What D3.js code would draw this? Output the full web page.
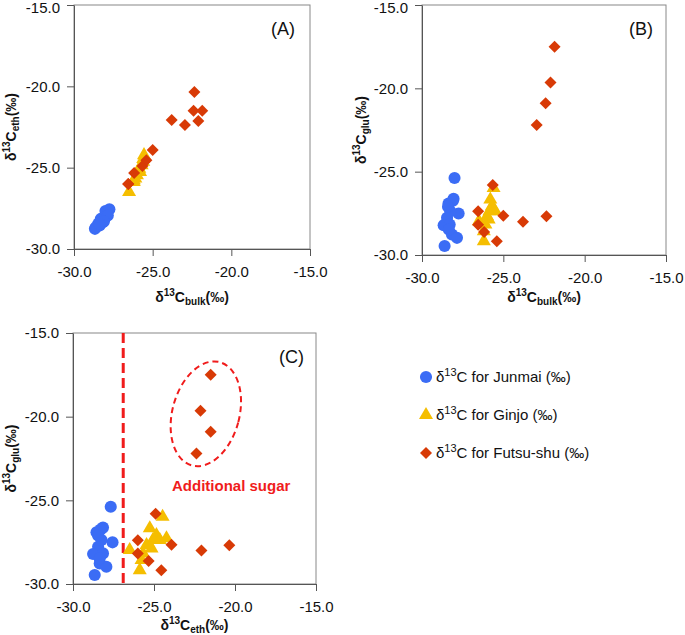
<!DOCTYPE html>
<html>
<head>
<meta charset="utf-8">
<script src="https://cdn.jsdelivr.net/npm/d3@7"></script>
<style>
  body { margin: 0; background: #fff; }
  svg { font-family: "Liberation Sans", Arial, sans-serif; }
  .axis path, .axis line { stroke: #555; }
  .axis text { font-size: 15px; fill: #111; }
</style>
</head>
<body>
<div id="root"></div>
<script>
'use strict';

// tick values shared by every axis
var tickValues = [-30, -25, -20, -15];

// Junmai samples: bulk, ethanol, glucose delta13C
var junmaiBulk = [-28.0, -28.06, -28.37, -27.75, -28.46, -28.67, -28.3, -28.16, -27.85, -28.61, -28.26, -28.35, -28.1, -28.4];
var junmaiEth  = [-27.67, -28.15, -28.55, -27.56, -28.45, -28.76, -28.15, -28.35, -27.94, -28.66, -28.24, -28.35, -28.3, -28.45];
var junmaiGlu  = [-25.38, -26.63, -26.91, -27.51, -27.77, -28.21, -28.17, -28.77, -28.97, -29.46, -27.37, -28.47, -26.75, -27.1];

// Ginjo samples
var ginjoBulk = [-25.6, -25.8, -25.7, -25.85, -25.6, -25.55, -26.0, -26.5, -25.9, -26.1, -26.2, -26.2];
var ginjoEth  = [-24.47, -25.26, -24.85, -25.07, -24.64, -24.23, -25.46, -26.5, -25.15, -25.67, -25.77, -25.88];
var ginjoGlu  = [-25.98, -26.67, -27.07, -27.37, -27.37, -27.27, -27.67, -27.97, -27.87, -28.17, -28.57, -29.17];

// Futsu-shu samples
var futsuBulk = [-21.85, -22.1, -22.4, -22.95, -25.65, -22.35, -23.79, -25.0, -26.55, -26.55, -26.18, -25.4];
var futsuEth  = [-21.5, -22.13, -21.5, -22.38, -24.9, -20.35, -22.07, -23.92, -26.0, -26.0, -25.33, -24.55];
var futsuGlu  = [-17.5, -19.65, -20.9, -22.2, -25.8, -27.68, -28.0, -27.65, -27.38, -28.18, -28.62, -29.18];

var legendLabels = ['for Junmai (‰)', 'for Ginjo (‰)', 'for Futsu-shu (‰)'];

var colors = ['#3b6cf5', '#f5be00', '#d83a06'];
var symbols = [d3.symbolCircle, d3.symbolTriangle, d3.symbolSquare];
var symSize = [115, 85, 72];
var symRot = [0, 0, 45];

var fmt = function (d) { return d.toFixed(1); }; // plain hyphen minus like the original

var svg = d3.select('#root').append('svg').attr('width', 685).attr('height', 635);

var series = {
  bulk: [junmaiBulk, ginjoBulk, futsuBulk],
  eth: [junmaiEth, ginjoEth, futsuEth],
  glu: [junmaiGlu, ginjoGlu, futsuGlu]
};

function title(g, sub, x, y, rotate) {
  var t = g.append('text')
    .attr('transform', 'translate(' + x + ',' + y + ')' + (rotate ? ' rotate(-90)' : ''))
    .attr('text-anchor', 'middle')
    .style('font-size', '14px').style('font-weight', 'bold').attr('fill', '#111');
  t.append('tspan').text('δ');
  t.append('tspan').attr('dy', -6).style('font-size', '10px').text('13');
  t.append('tspan').attr('dy', 6).text('C');
  t.append('tspan').attr('dy', 3).style('font-size', '10px').text(sub);
  t.append('tspan').attr('dy', -3).text('(‰)');
}

function panel(p) {
  var x = d3.scaleLinear().domain([-30, -15]).range([p.x0, p.x1]);
  var y = d3.scaleLinear().domain([-30, -15]).range([p.y1, p.y0]);
  var g = svg.append('g');

  g.append('rect')
    .attr('x', p.x0).attr('y', p.y0)
    .attr('width', p.x1 - p.x0).attr('height', p.y1 - p.y0)
    .attr('fill', 'none').attr('stroke', '#888');

  g.append('g').attr('class', 'axis')
    .attr('transform', 'translate(0,' + p.y1 + ')')
    .call(d3.axisBottom(x).tickValues(tickValues).tickFormat(fmt).tickSize(7).tickSizeOuter(0).tickPadding(10));

  var yAxis = g.append('g').attr('class', 'axis')
    .attr('transform', 'translate(' + p.x0 + ',0)')
    .call(d3.axisLeft(y).tickValues(tickValues).tickFormat(fmt).tickSize(7).tickSizeOuter(0).tickPadding(7));

  // keep the top label inside the page
  if (p.y0 < 10) {
    yAxis.selectAll('.tick text').filter(function (d) { return d === -15; }).attr('dy', '0.5em');
  }

  if (p.extra) p.extra(g, x, y);

  var xs = series[p.xKey], ys = series[p.yKey];
  for (var s = 0; s < 3; s++) {
    g.selectAll('path.pt' + s)
      .data(d3.range(xs[s].length))
      .enter().append('path')
      .attr('class', 'pt' + s)
      .attr('d', d3.symbol().type(symbols[s]).size(symSize[s]))
      .attr('transform', function (i) {
        return 'translate(' + x(xs[s][i]) + ',' + y(ys[s][i]) + ') rotate(' + symRot[s] + ')';
      })
      .attr('fill', colors[s]);
  }

  g.append('text')
    .attr('x', p.lx).attr('y', p.ly)
    .attr('text-anchor', 'end')
    .style('font-size', '18px').attr('fill', '#111')
    .text(p.label);

  title(g, p.xSub, (p.x0 + p.x1) / 2, p.xTitleY, false);
  title(g, p.ySub, p.yTitleX, (p.y0 + p.y1) / 2, true);
}

panel({ x0: 74, x1: 310, y0: 5, y1: 249, xKey: 'bulk', yKey: 'eth', label: '(A)', lx: 295, ly: 35,
  xSub: 'bulk', ySub: 'eth', xTitleY: 302, yTitleX: 16 });

panel({ x0: 422, x1: 666, y0: 5, y1: 255, xKey: 'bulk', yKey: 'glu', label: '(B)', lx: 653, ly: 35,
  xSub: 'bulk', ySub: 'glu', xTitleY: 302, yTitleX: 366 });

panel({ x0: 73, x1: 316, y0: 333, y1: 584, xKey: 'eth', yKey: 'glu', label: '(C)', lx: 304, ly: 363,
  xSub: 'eth', ySub: 'glu', xTitleY: 630, yTitleX: 16,
  extra: function (g, x, y) {
    g.append('line')
      .attr('x1', x(-26.9)).attr('x2', x(-26.9))
      .attr('y1', y(-15)).attr('y2', y(-30))
      .attr('stroke', '#f01c1c').attr('stroke-width', 3).attr('stroke-dasharray', '10,5');
    g.append('ellipse')
      .attr('transform', 'translate(' + x(-21.8) + ',' + y(-19.83) + ') rotate(15)')
      .attr('rx', 33.5).attr('ry', 53.5)
      .attr('fill', 'none').attr('stroke', '#f01c1c').attr('stroke-width', 2).attr('stroke-dasharray', '6,4');
    g.append('text')
      .attr('x', 172).attr('y', 491)
      .style('font-size', '15px').style('font-weight', 'bold').attr('fill', '#f01c1c')
      .text('Additional sugar');
  } });

// legend
var legend = svg.append('g');
legendLabels.forEach(function (lab, i) {
  var cy = 377 + i * 38;
  legend.append('path')
    .attr('d', d3.symbol().type(symbols[i]).size(symSize[i])())
    .attr('transform', 'translate(426,' + cy + ') rotate(' + symRot[i] + ')')
    .attr('fill', colors[i]);
  var t = legend.append('text').attr('x', 436).attr('y', cy + 5)
    .style('font-size', '15px').attr('fill', '#111');
  t.append('tspan').text('δ');
  t.append('tspan').attr('dy', -6).style('font-size', '11px').text('13');
  t.append('tspan').attr('dy', 6).text('C ' + lab);
});
</script>
</body>
</html>
